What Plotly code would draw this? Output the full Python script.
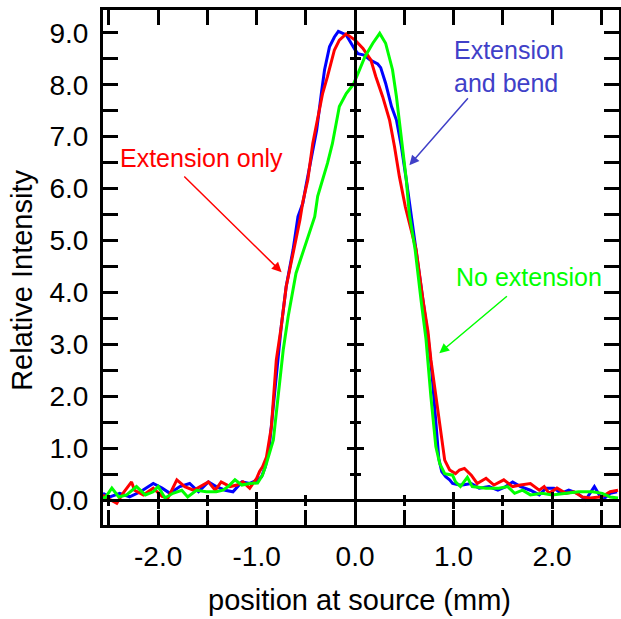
import plotly.graph_objects as go

# ---------------- data ----------------
blue_x = [-2.56, -2.49, -2.39, -2.29, -2.18, -2.05, -1.96, -1.88, -1.78, -1.68, -1.59, -1.49,
          -1.41, -1.32, -1.24, -1.15, -1.07, -0.99, -0.95, -0.91, -0.87, -0.84, -0.82, -0.78,
          -0.75, -0.70, -0.63, -0.58, -0.53, -0.50, -0.46, -0.39, -0.34, -0.31, -0.26, -0.21,
          -0.17, -0.09, 0.00, 0.03, 0.09, 0.15, 0.23, 0.26, 0.31, 0.37, 0.42, 0.47, 0.52, 0.57,
          0.62, 0.69, 0.74, 0.78, 0.82, 0.85, 0.88, 0.92, 0.96, 0.99, 1.06, 1.09, 1.18, 1.26,
          1.36, 1.45, 1.53, 1.60, 1.68, 1.78, 1.87, 1.94, 2.02, 2.09, 2.17, 2.26, 2.34, 2.43,
          2.51, 2.59, 2.66]
blue_y = [0.13, 0.06, 0.13, 0.06, 0.16, 0.32, 0.23, 0.13, 0.26, 0.32, 0.16, 0.35,
          0.26, 0.19, 0.16, 0.35, 0.32, 0.39, 0.45, 0.65, 1.05, 1.60, 1.99, 2.70,
          3.34, 4.11, 4.82, 5.46, 5.72, 6.04, 6.42, 7.13, 7.87, 8.29, 8.73, 8.92,
          9.03, 8.96, 8.67, 8.60, 8.57, 8.48, 8.40, 8.33, 8.03, 7.58, 7.32, 6.81, 6.17, 5.46,
          4.82, 3.85, 3.15, 2.45, 1.40, 0.80, 0.55, 0.45, 0.39, 0.32, 0.29, 0.29, 0.32, 0.23,
          0.26, 0.19, 0.26, 0.35, 0.26, 0.19, 0.10, 0.23, 0.23, 0.13, 0.19, 0.13, 0.00, 0.26,
          0.00, 0.13, 0.16]

red_x = [-2.56, -2.51, -2.42, -2.35, -2.27, -2.24, -2.15, -2.05, -1.96, -1.90, -1.81, -1.73,
         -1.64, -1.58, -1.49, -1.42, -1.36, -1.27, -1.20, -1.14, -1.07, -1.00, -0.97, -0.94,
         -0.90, -0.85, -0.80, -0.75, -0.70, -0.63, -0.56, -0.53, -0.48, -0.43, -0.38, -0.33,
         -0.28, -0.21, -0.16, -0.09, 0.00, 0.08, 0.16, 0.21, 0.28, 0.35, 0.40, 0.45, 0.51,
         0.62, 0.69, 0.74, 0.77, 0.82, 0.86, 0.91, 0.96, 1.02, 1.06, 1.11, 1.18, 1.24, 1.33,
         1.41, 1.51, 1.60, 1.68, 1.78, 1.87, 1.92, 1.97, 2.05, 2.14, 2.22, 2.31, 2.39, 2.48,
         2.54, 2.59, 2.67]
red_y = [0.10, 0.03, -0.06, 0.15, 0.35, 0.19, 0.10, 0.23, 0.07, 0.04, 0.39, 0.26,
         0.19, 0.26, 0.35, 0.19, 0.35, 0.26, 0.29, 0.35, 0.23, 0.42, 0.55, 0.64,
         0.83, 1.41, 2.70, 3.34, 4.11, 4.75, 5.40, 5.75, 6.17, 6.87, 7.32, 7.83,
         8.16, 8.67, 8.86, 8.98, 8.86, 8.70, 8.48, 8.16, 7.77, 7.32, 6.81, 6.23, 5.65,
         4.82, 3.85, 3.25, 2.70, 1.99, 1.41, 0.77, 0.58, 0.51, 0.58, 0.61, 0.48, 0.32, 0.42,
         0.29, 0.39, 0.26, 0.29, 0.32, 0.19, 0.26, 0.13, 0.23, 0.13, 0.16, 0.06, 0.04, 0.06,
         0.10, 0.16, 0.19]

green_x = [-2.56, -2.54, -2.47, -2.40, -2.32, -2.22, -2.13, -2.05, -2.00, -1.93, -1.85, -1.76,
           -1.70, -1.61, -1.51, -1.41, -1.34, -1.29, -1.22, -1.15, -1.07, -0.99, -0.94, -0.90,
           -0.83, -0.80, -0.76, -0.73, -0.68, -0.63, -0.60, -0.56, -0.50, -0.46, -0.41, -0.38,
           -0.33, -0.28, -0.23, -0.19, -0.16, -0.09, -0.02, 0.03, 0.10, 0.18, 0.25, 0.31, 0.38,
           0.42, 0.45, 0.48, 0.52, 0.55, 0.61, 0.67, 0.72, 0.77, 0.82, 0.86, 0.91, 0.99, 1.02,
           1.07, 1.14, 1.19, 1.26, 1.33, 1.46, 1.55, 1.62, 1.70, 1.78, 1.90, 2.00, 2.14, 2.27,
           2.41, 2.51, 2.59, 2.67]
green_y = [0.05, 0.04, 0.23, 0.06, 0.10, 0.26, 0.10, 0.16, 0.26, 0.04, 0.13, 0.19,
           0.06, 0.19, 0.16, 0.16, 0.19, 0.26, 0.39, 0.29, 0.32, 0.33, 0.48, 0.71,
           1.16, 1.70, 2.30, 2.89, 3.53, 4.05, 4.37, 4.60, 4.95, 5.14, 5.46, 5.85,
           6.17, 6.49, 6.87, 7.32, 7.58, 7.83, 8.00, 8.22, 8.54, 8.80, 8.99, 8.80, 8.29,
           7.77, 7.32, 6.81, 6.17, 5.52, 4.82, 3.85, 3.10, 1.99, 1.03, 0.70, 0.51, 0.48, 0.35,
           0.26, 0.44, 0.26, 0.25, 0.23, 0.23, 0.26, 0.13, 0.19, 0.10, 0.13, 0.10, 0.13, 0.16,
           0.16, 0.13, 0.06, 0.04]

x_tick_vals = [-2, -1, 0, 1, 2]
x_tick_text = ["-2.0", "-1.0", "0.0", "1.0", "2.0"]
y_tick_vals = [0, 1, 2, 3, 4, 5, 6, 7, 8, 9]
y_tick_text = ["0.0", "1.0", "2.0", "3.0", "4.0", "5.0", "6.0", "7.0", "8.0", "9.0"]

x_title = "position at source (mm)"
y_title = "Relative Intensity"

# ---------------- layout constants ----------------
X_RANGE = [-2.56, 2.68]
Y_RANGE = [-0.48, 9.44]
FONT = "Liberation Sans, Arial, sans-serif"
BLUE_TXT = "#4040c8"
GREEN = "#00ff00"

fig = go.Figure()
for xs, ys, col in [(blue_x, blue_y, "#0000ff"), (red_x, red_y, "#ff0000"), (green_x, green_y, GREEN)]:
    fig.add_trace(go.Scatter(x=xs, y=ys, mode="lines", line=dict(color=col, width=3),
                             showlegend=False, hoverinfo="skip"))

# dummy traces so overlay (zero-line) axes are drawn
for xa, ya in [("x3", "y"), ("x4", "y"), ("x", "y3"), ("x", "y4")]:
    fig.add_trace(go.Scatter(x=[None], y=[None], xaxis=xa, yaxis=ya, showlegend=False,
                             hoverinfo="skip", mode="lines"))

minor_main = dict(ticks="inside", ticklen=8, tickwidth=3, tickcolor="black",
                  tickmode="linear", tick0=0, dtick=0.5, showgrid=False)
frame = dict(showline=True, linewidth=3, linecolor="black", mirror="allticks",
             ticks="inside", ticklen=15, tickwidth=3, tickcolor="black",
             showgrid=False, zeroline=False, tickmode="array", automargin=False,
             tickfont=dict(family=FONT, size=28, color="black"),
             minor=minor_main)

y0frac = (0 - Y_RANGE[0]) / (Y_RANGE[1] - Y_RANGE[0])
x0frac = (0 - X_RANGE[0]) / (X_RANGE[1] - X_RANGE[0])


def zero_axis(over, pos, direction, rng, vals):
    return dict(overlaying=over, anchor="free", position=pos, range=rng,
                showline=True, linewidth=3, linecolor="black", automargin=False,
                ticks=direction, ticklen=7, tickwidth=3, tickcolor="black",
                tickmode="array", tickvals=vals, showticklabels=False,
                showgrid=False, zeroline=False,
                minor=dict(ticks=direction, ticklen=4, tickwidth=3, tickcolor="black",
                           tickmode="linear", tick0=0, dtick=0.5, showgrid=False))


fig.update_layout(
    width=621, height=619,
    margin=dict(l=103, r=2, t=10, b=94, autoexpand=False),
    paper_bgcolor="white", plot_bgcolor="white",
    font=dict(family=FONT, color="black"),
    xaxis=dict(frame, range=X_RANGE, tickvals=x_tick_vals, ticktext=x_tick_text,
               ticklabelstandoff=4),
    yaxis=dict(frame, range=Y_RANGE, tickvals=y_tick_vals, ticktext=y_tick_text,
               ticklabelstandoff=6),
    xaxis3=zero_axis("x", y0frac, "outside", X_RANGE, x_tick_vals),
    xaxis4=zero_axis("x", y0frac, "inside", X_RANGE, x_tick_vals),
    yaxis3=zero_axis("y", x0frac, "outside", Y_RANGE, y_tick_vals),
    yaxis4=zero_axis("y", x0frac, "inside", Y_RANGE, y_tick_vals),
)

# axis titles
fig.add_annotation(text=x_title, xref="paper", yref="paper", x=0.498, y=-0.146,
                   xanchor="center", yanchor="middle", showarrow=False,
                   font=dict(family=FONT, size=29, color="black"))
fig.add_annotation(text=y_title, xref="paper", yref="paper", x=-0.157, y=0.476,
                   xanchor="center", yanchor="middle", textangle=-90, showarrow=False,
                   font=dict(family=FONT, size=29, color="black"))

# labels
fig.add_annotation(text="Extension only", x=-1.556, y=6.59, xref="x", yref="y",
                   xanchor="center", yanchor="middle", showarrow=False,
                   font=dict(family=FONT, size=25, color="#ff0000"))
fig.add_annotation(text="Extension<br>and bend", x=0.987, y=8.36, xref="x", yref="y",
                   xanchor="left", yanchor="middle", align="left", showarrow=False,
                   font=dict(family=FONT, size=25, color=BLUE_TXT))
fig.add_annotation(text="No extension", x=1.767, y=4.30, xref="x", yref="y",
                   xanchor="center", yanchor="middle", showarrow=False,
                   font=dict(family=FONT, size=25, color=GREEN))

# arrows
for hx, hy, tx, ty, col in [(-0.746, 4.39, -1.75, 6.26, "#ff0000"),
                            (0.551, 6.45, 1.159, 7.77, BLUE_TXT),
                            (0.855, 2.83, 1.557, 3.95, GREEN)]:
    fig.add_annotation(x=hx, y=hy, ax=tx, ay=ty, xref="x", yref="y", axref="x", ayref="y",
                       text="", showarrow=True, arrowhead=2, arrowsize=1.3, arrowwidth=1.5,
                       arrowcolor=col, standoff=0)

fig.write_html("out.html", config={"displayModeBar": False},
               post_script="document.body.style.margin='0';document.body.style.padding='0';"
                           "document.documentElement.style.overflow='hidden';")
